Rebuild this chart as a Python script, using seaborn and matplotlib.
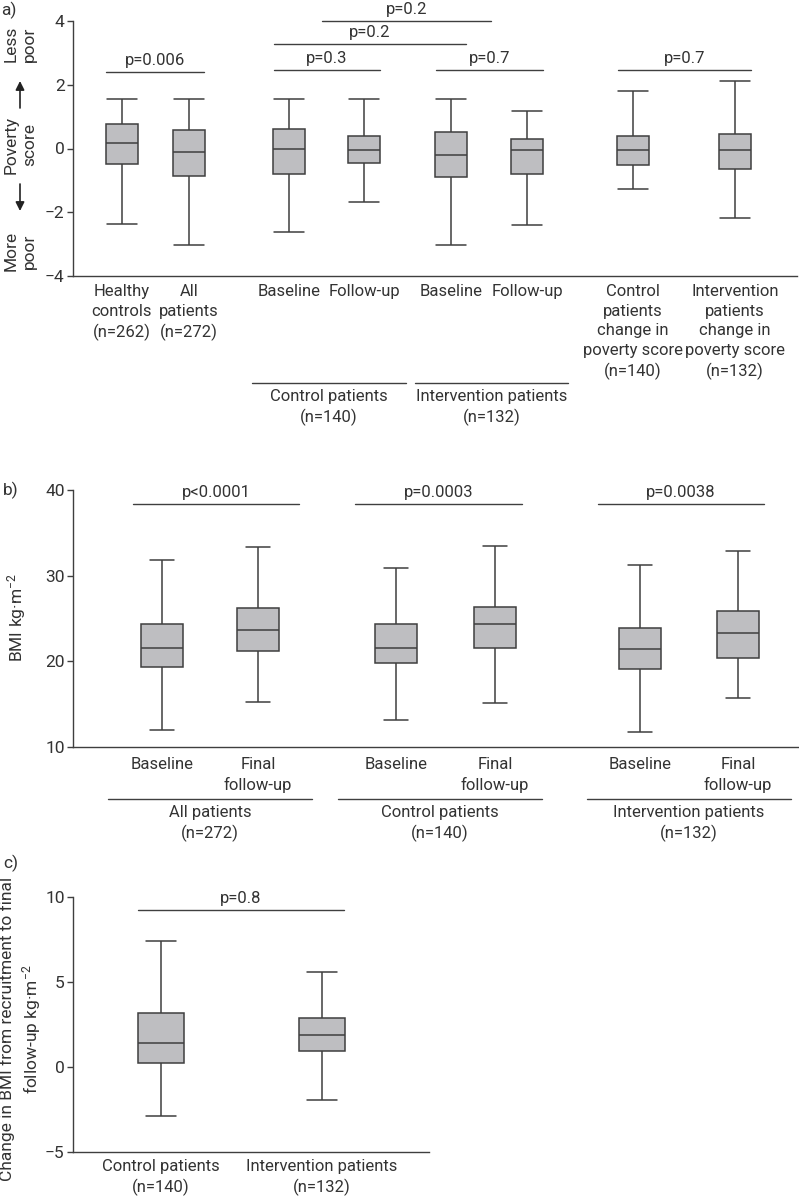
import numpy as np
import pandas as pd
import matplotlib
matplotlib.use("Agg")
import matplotlib.pyplot as plt
from matplotlib.lines import Line2D
import seaborn as sns

# a) poverty score, five-number summaries per box
pov_labels = ["Healthy\ncontrols\n(n=262)", "All\npatients\n(n=272)", "Baseline", "Follow-up",
              "Baseline", "Follow-up",
              "Control\npatients\nchange in\npoverty score\n(n=140)",
              "Intervention\npatients\nchange in\npoverty score\n(n=132)"]
pov_min = [-2.36, -3.02, -2.63, -1.68, -3.02, -2.41, -1.28, -2.17]
pov_q1 = [-0.48, -0.86, -0.80, -0.46, -0.90, -0.81, -0.53, -0.65]
pov_med = [0.18, -0.10, 0.00, -0.06, -0.19, -0.06, -0.06, -0.06]
pov_q3 = [0.77, 0.58, 0.60, 0.38, 0.52, 0.29, 0.40, 0.45]
pov_max = [1.55, 1.55, 1.56, 1.56, 1.56, 1.19, 1.80, 2.12]

# b) BMI
bmi_labels = ["Baseline", "Final\nfollow-up"] * 3
bmi_min = [12.0, 15.2, 13.1, 15.1, 11.8, 15.7]
bmi_q1 = [19.3, 21.2, 19.8, 21.6, 19.1, 20.4]
bmi_med = [21.5, 23.7, 21.5, 24.4, 21.4, 23.35]
bmi_q3 = [24.3, 26.2, 24.4, 26.4, 23.9, 25.9]
bmi_max = [31.8, 33.4, 30.9, 33.5, 31.3, 32.9]

# c) change in BMI
chg_labels = ["Control patients\n(n=140)", "Intervention patients\n(n=132)"]
chg_min = [-2.88, -1.92]
chg_q1 = [0.24, 0.94]
chg_med = [1.41, 1.88]
chg_q3 = [3.16, 2.90]
chg_max = [7.41, 5.61]

# layout: box positions along each x axis
pov_pos = [0.49, 1.16, 2.16, 2.91, 3.78, 4.54, 5.60, 6.62]
bmi_pos = [0.89, 1.85, 3.23, 4.22, 5.67, 6.65]
chg_pos = [0.88, 2.49]

pov_p = [(0.33, 1.31, 2.39, "p=0.006"), (2.01, 3.07, 2.45, "p=0.3"), (2.01, 3.93, 3.28, "p=0.2"),
         (2.49, 4.18, 4.0, "p=0.2"), (3.63, 4.70, 2.45, "p=0.7"), (5.45, 6.78, 2.45, "p=0.7")]
bmi_p = [(0.60, 2.26, 38.4, "p<0.0001"), (2.82, 4.49, 38.4, "p=0.0003"), (5.25, 6.91, 38.4, "p=0.0038")]
chg_p = [(0.65, 2.71, 9.22, "p=0.8")]

sns.set_theme(style="ticks")
plt.rcParams["font.family"] = ["Roboto", "DejaVu Sans"]
plt.rcParams["mathtext.default"] = "regular"
FS = 12
LS = 1.38
LINE = "#3f3f3f"
TXT = "#333333"
FILL = "#bebec1"

W, H = 799, 1196
fig = plt.figure(figsize=(W / 100, H / 100), dpi=100)


def fx(px):
    return px / W


def fy(py):
    return 1 - py / H


def axes_px(left, top, right, bottom):
    return fig.add_axes([fx(left), fy(bottom), (right - left) / W, (bottom - top) / H])


def long_table(pos, *cols):
    rows = []
    for i, p in enumerate(pos):
        for c in cols:
            rows.append({"pos": p, "value": c[i]})
    return pd.DataFrame(rows)


def draw_boxes(ax, pos, cols, box_w, cap_w):
    df = long_table(pos, *cols)
    spacing = np.min(np.diff(pos))
    sns.boxplot(data=df, x="pos", y="value", orient="x", native_scale=True, whis=(0, 100),
                width=box_w / spacing, color=FILL, linecolor=LINE, linewidth=1.1,
                saturation=1, showfliers=False, capwidths=cap_w, ax=ax)


def style_axes(ax, pos, labels, pad):
    sns.despine(ax=ax)
    for s in ["left", "bottom"]:
        ax.spines[s].set_color(LINE)
        ax.spines[s].set_linewidth(1.0)
    ax.set_xticks(pos, labels)
    ax.tick_params(axis="x", length=0, pad=pad, labelsize=FS, labelcolor=TXT)
    ax.tick_params(axis="y", length=4, width=1.0, color=LINE, pad=2, labelsize=FS + 0.5, labelcolor=TXT)
    for lab in ax.get_xticklabels():
        lab.set_linespacing(LS)
    ax.set_xlabel("")
    ax.set_ylabel("")


def brackets(ax, items):
    for x0, x1, y, lab in items:
        ax.plot([x0, x1], [y, y], color=LINE, lw=1.0, clip_on=False)
        ax.annotate(lab, xy=((x0 + x1) / 2, y), xytext=(0, 3), textcoords="offset points",
                    ha="center", va="bottom", fontsize=FS, color=TXT, annotation_clip=False)


def group(x0, x1, y, label):
    fig.add_artist(Line2D([fx(x0), fx(x1)], [fy(y), fy(y)], color=LINE, lw=1.0))
    fig.text(fx((x0 + x1) / 2), fy(y + 6), label, ha="center", va="top", fontsize=FS,
             color=TXT, multialignment="center", linespacing=LS)


# panel a
ax_a = axes_px(73, 21, 797, 276)
draw_boxes(ax_a, pov_pos, [pov_min, pov_q1, pov_med, pov_q3, pov_max], 0.32, 0.30)
ax_a.set_ylim(-4, 4)
ax_a.set_xlim(0, 7.24)
ax_a.set_yticks([-4, -2, 0, 2, 4], ["\u22124", "\u22122", "0", "2", "4"])
style_axes(ax_a, pov_pos, pov_labels, 6)
brackets(ax_a, pov_p)
group(252, 406, 383, "Control patients\n(n=140)")
group(415, 568, 383, "Intervention patients\n(n=132)")

fig.text(fx(1), fy(10), "a)", ha="left", va="center", fontsize=FS + 0.5, color=TXT)
for txt, yc in [("Less\npoor", 44), ("Poverty\nscore", 145), ("More\npoor", 251)]:
    fig.text(fx(20), fy(yc), txt, rotation=90, ha="center", va="center", fontsize=FS + 0.5,
             color=TXT, multialignment="center", linespacing=1.3)
arr = dict(arrowstyle="-|>", color="#222222", lw=1.2, mutation_scale=13, shrinkA=0, shrinkB=0)
fig.add_artist(matplotlib.patches.FancyArrowPatch((fx(20), fy(108)), (fx(20), fy(81)),
                                                  transform=fig.transFigure, **arr))
fig.add_artist(matplotlib.patches.FancyArrowPatch((fx(20), fy(184)), (fx(20), fy(211)),
                                                  transform=fig.transFigure, **arr))

# panel b
ax_b = axes_px(73, 490, 799, 747)
draw_boxes(ax_b, bmi_pos, [bmi_min, bmi_q1, bmi_med, bmi_q3, bmi_max], 0.42, 0.24)
ax_b.set_ylim(10, 40)
ax_b.set_xlim(0, 7.26)
ax_b.set_yticks([10, 20, 30, 40])
style_axes(ax_b, bmi_pos, bmi_labels, 7)
brackets(ax_b, bmi_p)
group(108, 312, 799, "All patients\n(n=272)")
group(338, 542, 799, "Control patients\n(n=140)")
group(587, 791, 799, "Intervention patients\n(n=132)")
fig.text(fx(3), fy(490), "b)", ha="left", va="center", fontsize=FS + 0.5, color=TXT)
fig.text(fx(17), fy(618), "BMI kg\u00b7m$^{\u22122}$", rotation=90, ha="center", va="center",
         fontsize=FS + 0.5, color=TXT)

# panel c
ax_c = axes_px(73, 897, 429, 1152)
draw_boxes(ax_c, chg_pos, [chg_min, chg_q1, chg_med, chg_q3, chg_max], 0.46, 0.31)
ax_c.set_ylim(-5, 10)
ax_c.set_xlim(0, 3.56)
ax_c.set_yticks([-5, 0, 5, 10], ["\u22125", "0", "5", "10"])
style_axes(ax_c, chg_pos, chg_labels, 5)
brackets(ax_c, chg_p)
fig.text(fx(3), fy(863), "c)", ha="left", va="center", fontsize=FS + 0.5, color=TXT)
fig.text(fx(21), fy(1029), "Change in BMI from recruitment to final\nfollow-up kg\u00b7m$^{\u22122}$",
         rotation=90, ha="center", va="center", fontsize=FS + 0.5, color=TXT,
         multialignment="center", linespacing=1.3)

fig.savefig("out.png", dpi=100)
